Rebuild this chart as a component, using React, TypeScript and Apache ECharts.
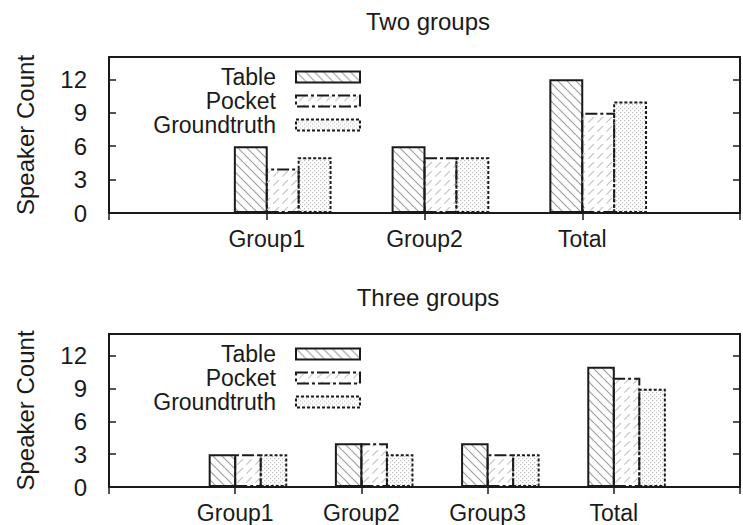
import { useEffect, useRef } from 'react';
import * as echarts from 'echarts';

// Series shown in both panels
const seriesNames = ['Table', 'Pocket', 'Groundtruth'];

// Panel 1: two groups
const twoGroupTitle = 'Two groups';
const twoGroupCategories = ['Group1', 'Group2', 'Total'];
const twoTable = [6, 6, 12];
const twoPocket = [4, 5, 9];
const twoGroundtruth = [5, 5, 10];

// Panel 2: three groups
const threeGroupTitle = 'Three groups';
const threeGroupCategories = ['Group1', 'Group2', 'Group3', 'Total'];
const threeTable = [3, 4, 4, 11];
const threePocket = [3, 4, 3, 10];
const threeGroundtruth = [3, 3, 3, 9];

const yAxisName = 'Speaker Count';
const yMin = 0;
const yMax = 14;
const yStep = 3;

const FONT = '"Liberation Sans", Arial, Helvetica, sans-serif';
const FONT_SIZE = 24;
const SMALL_FONT_SIZE = 23;
const INK = '#1a1a1a';
const BORDER = 2;

type Hatch = { image: HTMLCanvasElement; repeat: 'repeat'; imageWidth: number; imageHeight: number };

function lineHatch(dir: 1 | -1, color: string, dash: number[] | null, size: number): Hatch {
  const c = document.createElement('canvas');
  c.width = size;
  c.height = size;
  const g = c.getContext('2d')!;
  g.strokeStyle = color;
  g.lineWidth = 1.2;
  if (dash) g.setLineDash(dash);
  for (let k = -1; k <= 1; k++) {
    g.beginPath();
    if (dir > 0) {
      g.moveTo(k * size, 0);
      g.lineTo(k * size + size, size);
    } else {
      g.moveTo(k * size + size, 0);
      g.lineTo(k * size, size);
    }
    g.stroke();
  }
  return { image: c, repeat: 'repeat', imageWidth: size, imageHeight: size };
}

function dotHatch(color: string): Hatch {
  const size = 4;
  const c = document.createElement('canvas');
  c.width = size;
  c.height = size;
  const g = c.getContext('2d')!;
  g.fillStyle = color;
  g.fillRect(0, 0, 1.2, 1.2);
  g.fillRect(2, 2, 1.2, 1.2);
  return { image: c, repeat: 'repeat', imageWidth: size, imageHeight: size };
}

export default function App() {
  const ref = useRef<HTMLDivElement>(null);

  useEffect(() => {
    if (!ref.current) return;
    const chart = echarts.init(ref.current, undefined, { renderer: 'svg' });

    const fills = [
      lineHatch(1, '#a0a0a0', null, 9),
      lineHatch(-1, '#c4c4c4', [8, 4.73], 9),
      dotHatch('#c2c2c2'),
    ];
    const borderTypes: any[] = ['solid', [12, 3, 3, 3], [3, 2]];

    const plotLeft = 109;
    const plotWidth = 638;

    const panels = [
      { title: twoGroupTitle, cats: twoGroupCategories, values: [twoTable, twoPocket, twoGroundtruth], top: 57, height: 156, titleY: 21 },
      { title: threeGroupTitle, cats: threeGroupCategories, values: [threeTable, threePocket, threeGroundtruth], top: 334, height: 153, titleY: 297 },
    ];

    const grid: any[] = [];
    const xAxis: any[] = [];
    const yAxis: any[] = [];
    const series: any[] = [];
    const legend: any[] = [];
    const graphic: any[] = [];

    panels.forEach((p, i) => {
      const axisData = ['', ...p.cats, ''];
      // box pitch: one fifth of the spacing between neighbouring ticks;
      // each box is widened by its outline so neighbours share one edge line
      const pitch = plotWidth / (axisData.length - 1) / 5;
      const barWidth = pitch + BORDER;
      const barGap = `${(-BORDER / barWidth) * 100}%`;
      grid.push({
        left: plotLeft,
        top: p.top,
        width: plotWidth,
        height: p.height,
        show: true,
        borderColor: INK,
        borderWidth: 2,
        backgroundColor: 'transparent',
      });
      const tick = { show: true, inside: true, length: 7, lineStyle: { color: INK, width: 1.5 } };
      // bottom axis with category labels
      xAxis.push({
        type: 'category',
        gridIndex: i,
        data: axisData,
        boundaryGap: false,
        position: 'bottom',
        axisLine: { show: false },
        axisTick: { ...tick, interval: 0 },
        axisLabel: { interval: 0, margin: 14, fontSize: SMALL_FONT_SIZE, fontFamily: FONT, color: INK },
        splitLine: { show: false },
      });
      // mirrored ticks along the top border
      xAxis.push({
        type: 'category',
        gridIndex: i,
        data: axisData,
        boundaryGap: false,
        position: 'top',
        axisLine: { show: false },
        axisTick: { ...tick, interval: 0 },
        axisLabel: { show: false },
        splitLine: { show: false },
      });
      yAxis.push({
        type: 'value',
        gridIndex: i,
        min: yMin,
        max: yMax,
        interval: yStep,
        position: 'left',
        name: yAxisName,
        nameLocation: 'middle',
        nameGap: 72,
        nameRotate: 90,
        nameTextStyle: { fontSize: FONT_SIZE, fontFamily: FONT, color: INK },
        axisLine: { show: false },
        axisTick: tick,
        axisLabel: { showMaxLabel: false, margin: 22, fontSize: FONT_SIZE, fontFamily: FONT, color: INK },
        splitLine: { show: false },
      });
      // mirrored ticks along the right border
      yAxis.push({
        type: 'value',
        gridIndex: i,
        min: yMin,
        max: yMax,
        interval: yStep,
        position: 'right',
        axisLine: { show: false },
        axisTick: tick,
        axisLabel: { show: false },
        splitLine: { show: false },
      });

      // empty leading slot so each cluster starts one box left of its tick
      series.push({
        type: 'bar',
        name: '',
        xAxisIndex: i * 2,
        yAxisIndex: i * 2,
        data: axisData.map(() => '-'),
        barWidth,
        barGap,
        silent: true,
      });
      seriesNames.forEach((name, s) => {
        series.push({
          type: 'bar',
          name,
          xAxisIndex: i * 2,
          yAxisIndex: i * 2,
          data: ['-', ...p.values[s], '-'],
          barWidth,
          barGap,
          silent: true,
          itemStyle: {
            color: fills[s],
            borderColor: INK,
            borderWidth: BORDER,
            borderType: borderTypes[s],
          },
        });
      });

      legend.push({
        orient: 'vertical',
        right: 382,
        top: p.top + 8,
        padding: 0,
        itemGap: 0,
        itemWidth: 64,
        itemHeight: 11,
        align: 'right',
        icon: 'rect',
        selectedMode: false,
        textStyle: { fontSize: SMALL_FONT_SIZE, fontFamily: FONT, color: INK, lineHeight: 24, padding: [0, 15, 0, 0] },
        data: seriesNames.map((name, s) => ({
          name,
          itemStyle: { color: fills[s], borderColor: INK, borderWidth: BORDER, borderType: borderTypes[s] },
        })),
      });

      graphic.push({
        type: 'text',
        x: 428,
        y: p.titleY,
        style: {
          text: p.title,
          font: `${FONT_SIZE}px ${FONT}`,
          fill: INK,
          align: 'center',
          verticalAlign: 'middle',
        },
      });
    });

    chart.setOption({
      animation: false,
      backgroundColor: '#ffffff',
      grid,
      xAxis,
      yAxis,
      series,
      legend,
      graphic,
    });

    return () => chart.dispose();
  }, []);

  return (
    <div
      ref={ref}
      style={{ position: 'absolute', left: 0, top: 0, width: 743, height: 525 }}
    />
  );
}
